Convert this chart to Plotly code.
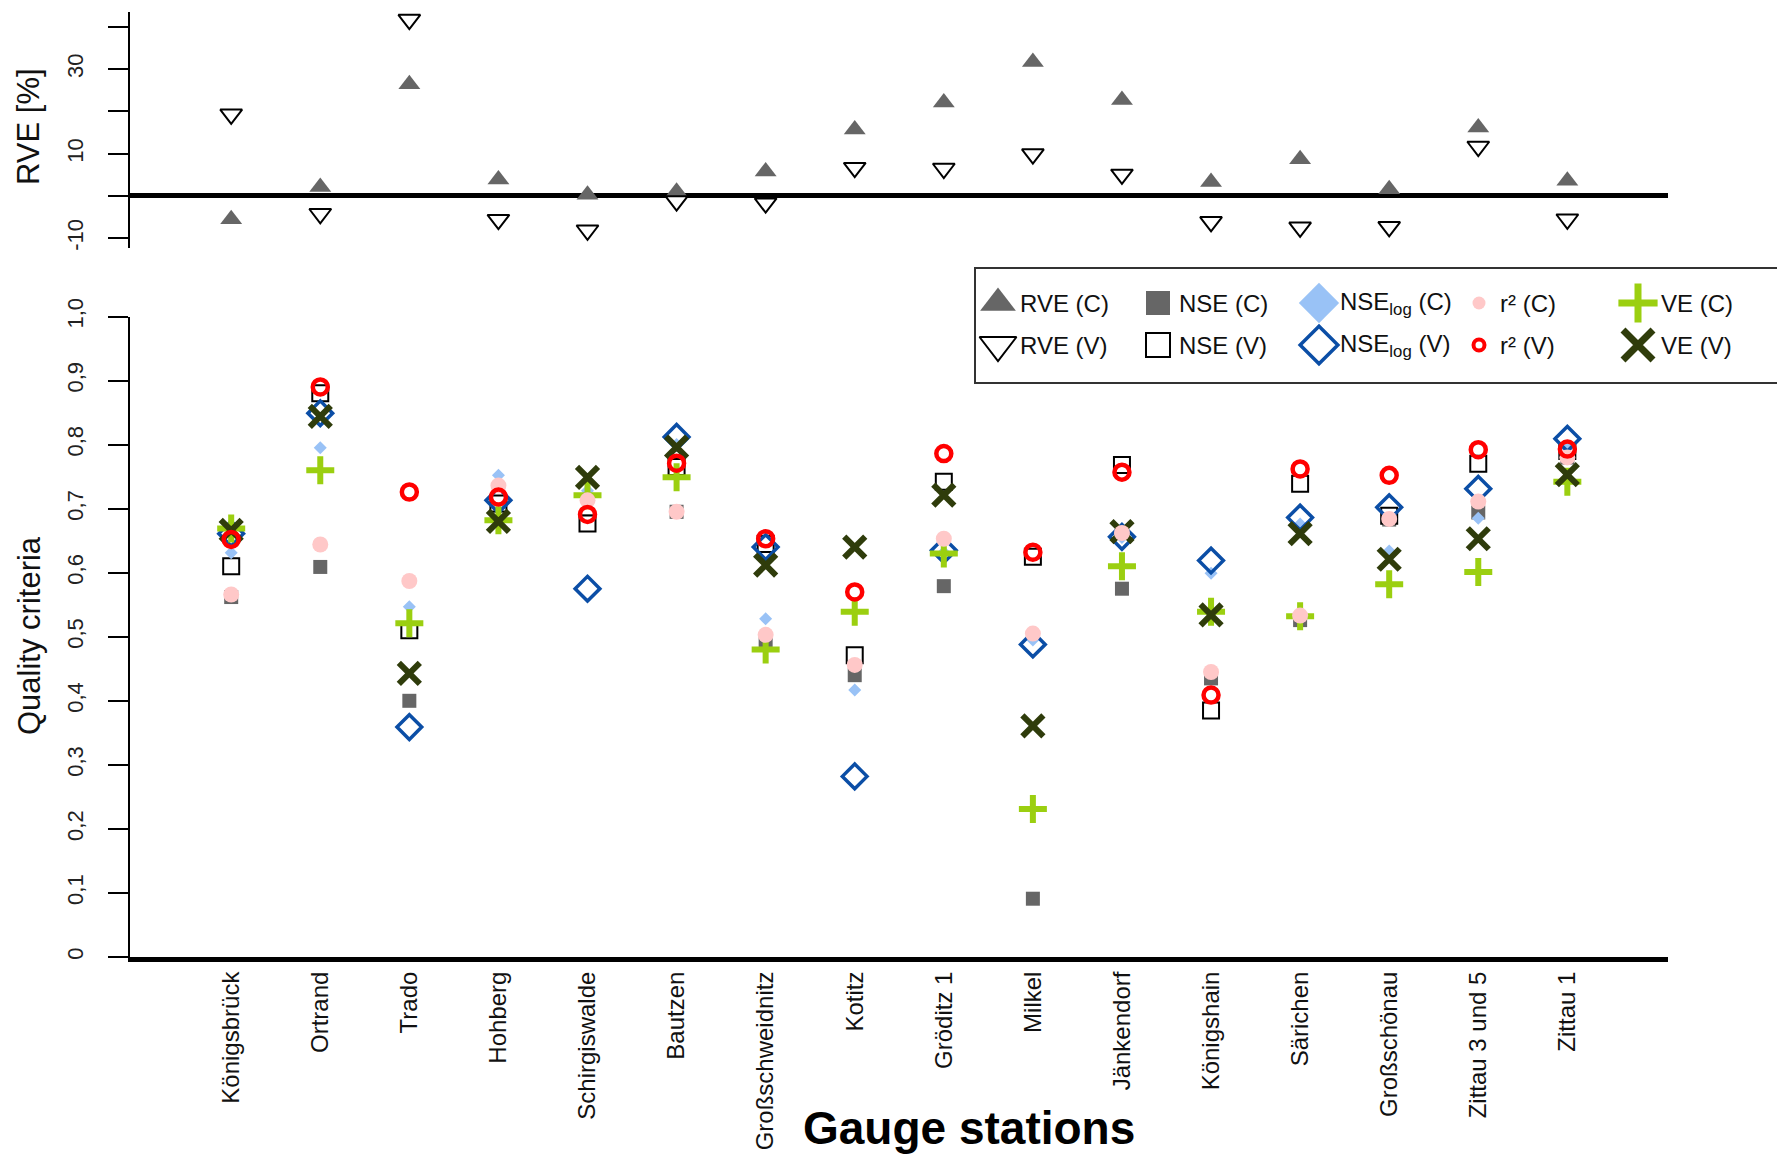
import plotly.graph_objects as go

# ---------------- data ----------------
stations = ["Königsbrück", "Ortrand", "Trado", "Hohberg", "Schirgiswalde", "Bautzen",
            "Großschweidnitz", "Kotitz", "Gröditz 1", "Milkel", "Jänkendorf", "Königshain",
            "Särichen", "Großschönau", "Zittau 3 und 5", "Zittau 1"]

rve_c = [-5.5, 2.1, 26.4, 3.9, 0.3, 1.0, 5.8, 15.7, 22.1, 31.7, 22.7, 3.3, 8.7, 1.6, 16.2, 3.6]
rve_v = [19.3, -4.2, 41.7, -5.6, -8.1, -1.2, -1.7, 6.7, 6.5, 9.9, 5.1, -6.1, -7.4, -7.3, 11.7, -5.5]

nse_c = [0.562, 0.609, 0.400, 0.705, 0.680, 0.695, 0.495, 0.440, 0.579, 0.091, 0.575, 0.435, 0.526, 0.683, 0.694, 0.780]
nse_v = [0.610, 0.880, 0.510, 0.708, 0.677, 0.765, 0.645, 0.471, 0.742, 0.625, 0.768, 0.385, 0.739, 0.689, 0.770, 0.790]
nselog_c = [0.631, 0.795, 0.547, 0.752, 0.728, 0.800, 0.528, 0.417, 0.632, 0.495, 0.655, 0.599, 0.676, 0.634, 0.685, 0.795]
nselog_v = [0.661, 0.849, 0.359, 0.713, 0.575, 0.812, 0.640, 0.282, 0.635, 0.488, 0.656, 0.619, 0.686, 0.702, 0.731, 0.809]
r2_c = [0.566, 0.644, 0.587, 0.736, 0.713, 0.695, 0.503, 0.456, 0.653, 0.505, 0.662, 0.445, 0.533, 0.684, 0.711, 0.780]
r2_v = [0.652, 0.890, 0.726, 0.718, 0.691, 0.771, 0.653, 0.570, 0.786, 0.632, 0.757, 0.409, 0.762, 0.752, 0.792, 0.793]
ve_c = [0.669, 0.760, 0.521, 0.682, 0.721, 0.749, 0.480, 0.539, 0.630, 0.231, 0.610, 0.539, 0.532, 0.582, 0.601, 0.742]
ve_v = [0.666, 0.844, 0.443, 0.680, 0.749, 0.796, 0.612, 0.640, 0.721, 0.361, 0.664, 0.534, 0.661, 0.621, 0.653, 0.753]

q_ticks = [0, 0.1, 0.2, 0.3, 0.4, 0.5, 0.6, 0.7, 0.8, 0.9, 1.0]
q_ticktext = ["0", "0,1", "0,2", "0,3", "0,4", "0,5", "0,6", "0,7", "0,8", "0,9", "1,0"]
rve_ticks = [-10, 10, 30]
rve_ticktext = ["-10", "10", "30"]
rve_minor_ticks = [0, 20, 40]

legend_labels = [["RVE (C)", "RVE (V)"], ["NSE (C)", "NSE (V)"],
                 ["NSE<sub>log</sub> (C)", "NSE<sub>log</sub> (V)"], ["r² (C)", "r² (V)"],
                 ["VE (C)", "VE (V)"]]

# ---------------- styles ----------------
W, H = 1777, 1159
FONT = "Liberation Sans, Arial, sans-serif"
GRAY = "#666666"
LBLUE = "#99C2F6"
DBLUE = "#0B4EA6"
PINK = "#FFC8C8"
RED = "#FF0000"
LGREEN = "#9BCF10"
DGREEN = "#2F3C0B"

xs = list(range(1, len(stations) + 1))
xr = [-0.136, 17.13]


def py(p):
    return 1 - p / H


fig = go.Figure()

# top panel
fig.add_trace(go.Scatter(x=xs, y=rve_c, mode="markers", xaxis="x", yaxis="y",
                         marker=dict(symbol="triangle-up", size=19, color=GRAY, line=dict(width=0))))
fig.add_trace(go.Scatter(x=xs, y=rve_v, mode="markers", xaxis="x", yaxis="y",
                         marker=dict(symbol="triangle-down", size=19, color="white",
                                     line=dict(width=2, color="black"))))

# lower panel
lower = [
    (nse_c, dict(symbol="square", size=14, color=GRAY, line=dict(width=0))),
    (nse_v, dict(symbol="square", size=16, color="white", line=dict(width=2, color="black"))),
    (nselog_c, dict(symbol="diamond", size=10, color=LBLUE, line=dict(width=0))),
    (nselog_v, dict(symbol="diamond-open", size=19, color=DBLUE, line=dict(width=3.5, color=DBLUE))),
    (ve_c, dict(symbol="cross-thin", size=20, color=LGREEN, line=dict(width=6, color=LGREEN))),
    (ve_v, dict(symbol="x-thin", size=21, color=DGREEN, line=dict(width=6, color=DGREEN))),
    (r2_c, dict(symbol="circle", size=16, color=PINK, line=dict(width=0))),
    (r2_v, dict(symbol="circle-open", size=15, color=RED, line=dict(width=4.5, color=RED))),
]
for vals, mk in lower:
    fig.add_trace(go.Scatter(x=xs, y=vals, mode="markers", xaxis="x2", yaxis="y2", marker=mk))

# legend (pixel-space overlay axis)
leg_sym_x = [998, 1158, 1319, 1479, 1638]
leg_txt_x = [1018, 1177, 1338, 1498, 1659]
leg_row_y = [303, 345]
leg_markers = [
    [dict(symbol="triangle-up", size=31, color=GRAY, line=dict(width=0)),
     dict(symbol="triangle-down", size=32, color="white", line=dict(width=2, color="black"))],
    [dict(symbol="square", size=24, color=GRAY, line=dict(width=0)),
     dict(symbol="square", size=24, color="white", line=dict(width=2, color="black"))],
    [dict(symbol="diamond", size=31, color=LBLUE, line=dict(width=0)),
     dict(symbol="diamond-open", size=29, color=DBLUE, line=dict(width=3.5, color=DBLUE))],
    [dict(symbol="circle", size=13, color=PINK, line=dict(width=0)),
     dict(symbol="circle-open", size=11, color=RED, line=dict(width=4, color=RED))],
    [dict(symbol="cross-thin", size=28, color=LGREEN, line=dict(width=7, color=LGREEN)),
     dict(symbol="x-thin", size=30, color=DGREEN, line=dict(width=7, color=DGREEN))],
]
for ci in range(5):
    for ri in range(2):
        fig.add_trace(go.Scatter(x=[leg_sym_x[ci]], y=[leg_row_y[ri]], mode="markers",
                                 xaxis="x3", yaxis="y3", marker=leg_markers[ci][ri]))
        fig.add_annotation(x=leg_txt_x[ci] / W, y=py(leg_row_y[ri]), xref="paper", yref="paper",
                           text=legend_labels[ci][ri], showarrow=False, xanchor="left",
                           yanchor="middle", font=dict(size=24, color="#111", family=FONT))

fig.add_shape(type="rect", xref="paper", yref="paper", x0=975 / W, x1=1.01,
              y0=py(383), y1=py(268), line=dict(color="#333", width=2), fillcolor="rgba(0,0,0,0)")

# axis titles
fig.add_annotation(x=29 / W, y=py(127), xref="paper", yref="paper", text="RVE [%]",
                   textangle=-90, showarrow=False, xanchor="center", yanchor="middle",
                   font=dict(size=31, color="#111", family=FONT))
fig.add_annotation(x=29 / W, y=py(636), xref="paper", yref="paper", text="Quality criteria",
                   textangle=-90, showarrow=False, xanchor="center", yanchor="middle",
                   font=dict(size=31, color="#111", family=FONT))
fig.add_annotation(x=969 / W, y=py(1128), xref="paper", yref="paper", text="<b>Gauge stations</b>",
                   showarrow=False, xanchor="center", yanchor="middle",
                   font=dict(size=46, color="black", family=FONT))

dom_x = [130 / W, 1668 / W]
tickfont = dict(size=22, color="#222", family=FONT)

fig.update_layout(
    width=W, height=H, margin=dict(l=0, r=0, t=0, b=0, autoexpand=False),
    paper_bgcolor="white", plot_bgcolor="rgba(0,0,0,0)", showlegend=False,
    font=dict(family=FONT),
    xaxis=dict(domain=dom_x, range=xr, anchor="y", visible=False, automargin=False),
    yaxis=dict(domain=[py(248), py(12)], range=[-12.3, 43.5], anchor="x", automargin=False,
               showline=True, linewidth=2, linecolor="black", showgrid=False,
               zeroline=True, zerolinewidth=5, zerolinecolor="black",
               ticks="outside", ticklen=20, tickwidth=2, tickcolor="black",
               tickvals=rve_ticks, ticktext=rve_ticktext, tickangle=-90,
               tickfont=tickfont, ticklabelstandoff=16,
               minor=dict(tickvals=rve_minor_ticks, ticks="outside", ticklen=20,
                          tickwidth=2, tickcolor="black", showgrid=False)),
    xaxis2=dict(domain=dom_x, range=xr, anchor="y2", showgrid=False, zeroline=False,
                automargin=False,
                showline=True, linewidth=5, linecolor="black", ticks="",
                tickvals=xs, ticktext=stations, tickangle=-90,
                tickfont=dict(size=24, color="#111", family=FONT)),
    yaxis2=dict(domain=[py(957), py(316.5)], range=[0, 1], anchor="x2", automargin=False,
                showline=True, linewidth=2, linecolor="black", showgrid=False, zeroline=False,
                ticks="outside", ticklen=20, tickwidth=2, tickcolor="black",
                tickvals=q_ticks, ticktext=q_ticktext, tickangle=-90,
                tickfont=tickfont, ticklabelstandoff=16),
    xaxis3=dict(domain=[0, 1], range=[0, W], anchor="y3", visible=False, fixedrange=True,
                automargin=False),
    yaxis3=dict(domain=[0, 1], range=[H, 0], anchor="x3", visible=False, fixedrange=True,
                automargin=False),
)

fig.write_html("out.html")
